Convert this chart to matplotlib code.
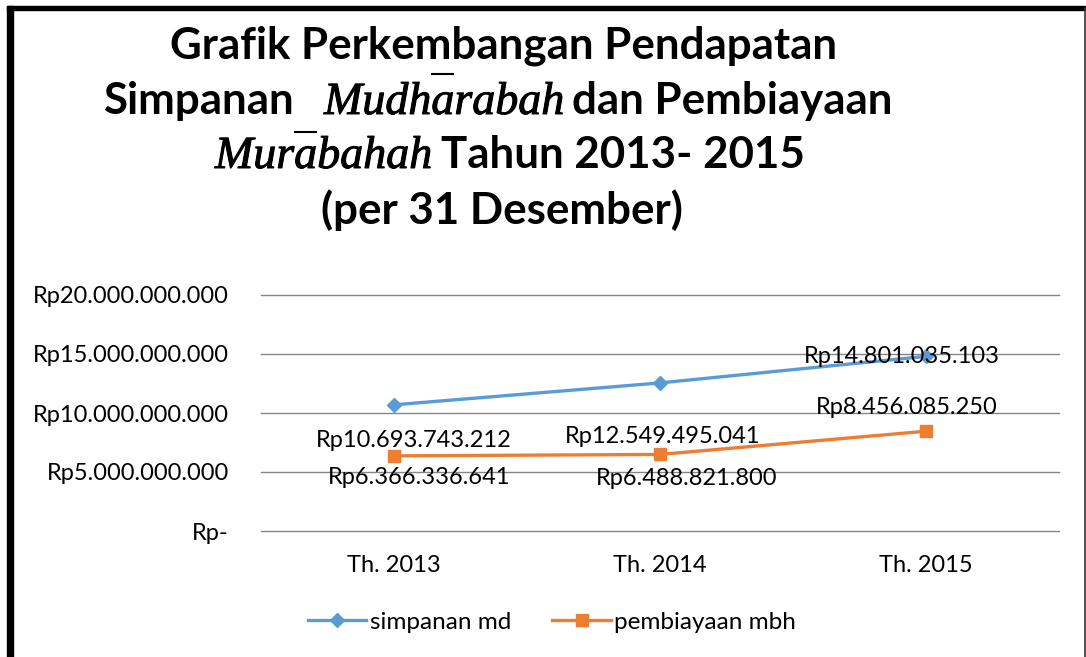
import matplotlib
matplotlib.use("Agg")
import matplotlib.pyplot as plt
import matplotlib.patheffects as pe
from matplotlib.lines import Line2D
from matplotlib.patches import Rectangle

years = ["Th. 2013", "Th. 2014", "Th. 2015"]
simpanan_md = [10693743212, 12549495041, 14801035103]
pembiayaan_mbh = [6366336641, 6488821800, 8456085250]
y_ticks = [0, 5000000000, 10000000000, 15000000000, 20000000000]

W, H = 1086, 657
BLUE = "#5B9BD5"
ORANGE = "#ED7D31"


def rp(v):
    if v == 0:
        return "Rp-"
    return "Rp" + "{:,}".format(v).replace(",", ".")


def fx(x):
    return x / W


def fy(y):
    return 1 - y / H


fig = plt.figure(figsize=(W / 100, H / 100), dpi=100)
ax = fig.add_axes([fx(261), fy(531), fx(1059) - fx(261), fy(295) - fy(531)])

xs = range(len(years))
ax.plot(xs, simpanan_md, color=BLUE, lw=2.4, marker="D", markersize=7.5,
        label="simpanan md", zorder=3)
ax.plot(xs, pembiayaan_mbh, color=ORANGE, lw=2.4, marker="s", markersize=8,
        label="pembiayaan mbh", zorder=3)

lab_font = dict(fontfamily="Lato", fontsize=17, color="black")
# data labels sit where excel dropped them
blue_off = [(20, -36), (3, -54), (-24, 0)]
orange_off = [(25, -22), (27, -24), (-19, 24)]
for i in xs:
    ax.annotate(rp(simpanan_md[i]), (i, simpanan_md[i]), xytext=blue_off[i],
                textcoords="offset pixels", ha="center", va="center", **lab_font)
    ax.annotate(rp(pembiayaan_mbh[i]), (i, pembiayaan_mbh[i]), xytext=orange_off[i],
                textcoords="offset pixels", ha="center", va="center", **lab_font)

ax.set_xlim(-0.5, 2.5)
ax.set_ylim(0, 20000000000)
ax.set_yticks(y_ticks)
ax.set_yticklabels([rp(v) for v in y_ticks], **lab_font)
ax.set_xticks(list(xs))
ax.set_xticklabels(years, **lab_font)
ax.tick_params(axis="y", length=0, pad=23)
ax.tick_params(axis="x", length=0, pad=17)
ax.grid(axis="y", color="#868686", lw=1)
for gl in ax.yaxis.get_gridlines():
    gl.set_clip_on(False)
ax.set_axisbelow(True)
for s in ax.spines.values():
    s.set_visible(False)

fig.legend(loc="center", bbox_to_anchor=(fx(552), fy(622)), ncol=2, frameon=False,
           prop=dict(family="Lato", size=17.5), handlelength=2.4,
           handletextpad=0.15, columnspacing=1.7)

# title, mixed fonts laid out word group by word group
renderer = fig.canvas.get_renderer()
bold = dict(fontfamily="Lato", fontweight="bold")
ital = dict(fontfamily="Liberation Serif", fontstyle="italic")


def text_w(s, size, style):
    t = fig.text(0, 0, s, fontsize=size, **style)
    w = t.get_window_extent(renderer).width
    t.remove()
    return w


bold_size = 20 * 668 / text_w("Grafik Perkembangan Pendapatan", 20, bold)
ital_size = 20 * 240 / text_w("Mudharabah", 20, ital)
heavy = [pe.withStroke(linewidth=0.7, foreground="black")]

# (centre x, baseline y, [(text, style, gap after in px)])
title_lines = [
    (504, 58, [("Grafik Perkembangan Pendapatan", bold, 0)]),
    (498, 114, [("Simpanan", bold, 30), ("Mudharabah", ital, 8), ("dan Pembiayaan", bold, 0)]),
    (510, 168, [("Murabahah", ital, 9), ("Tahun 2013- 2015", bold, 0)]),
    (502, 224, [("(per 31 Desember)", bold, 0)]),
]
starts = {}
for cx, base, parts in title_lines:
    sizes = [bold_size if st is bold else ital_size for _, st, _ in parts]
    widths = [text_w(s, sz, st) for (s, st, _), sz in zip(parts, sizes)]
    x = cx - (sum(widths) + sum(g for _, _, g in parts)) / 2
    for (s, st, gap), sz, w in zip(parts, sizes, widths):
        t = fig.text(fx(x), fy(base), s, ha="left", va="baseline", fontsize=sz, **st)
        if st is ital:
            t.set_path_effects(heavy)
        starts[s] = x
        x += w + gap

# macrons over the long a, drawn a bit above the line as in the source
for word, head, y in [("Mudharabah", "Mudh", 74), ("Murabahah", "Mur", 132)]:
    x0 = starts[word] + text_w(head, ital_size, ital) + 1
    x1 = starts[word] + text_w(head + "a", ital_size, ital) - 1
    fig.add_artist(Line2D([fx(x0), fx(x1)], [fy(y), fy(y)], color="black", lw=1.5,
                          transform=fig.transFigure))

# frame around the picture
fig.add_artist(Rectangle((fx(7), fy(10)), fx(1085) - fx(7), 4 / H, color="black",
                         transform=fig.transFigure))
fig.add_artist(Rectangle((fx(7), 0), 6 / W, fy(6), color="black",
                         transform=fig.transFigure))
fig.add_artist(Line2D([fx(1085), fx(1085)], [0, fy(8)], color="#333333", lw=1.2,
                      transform=fig.transFigure))

fig.savefig("out.png", dpi=100)
